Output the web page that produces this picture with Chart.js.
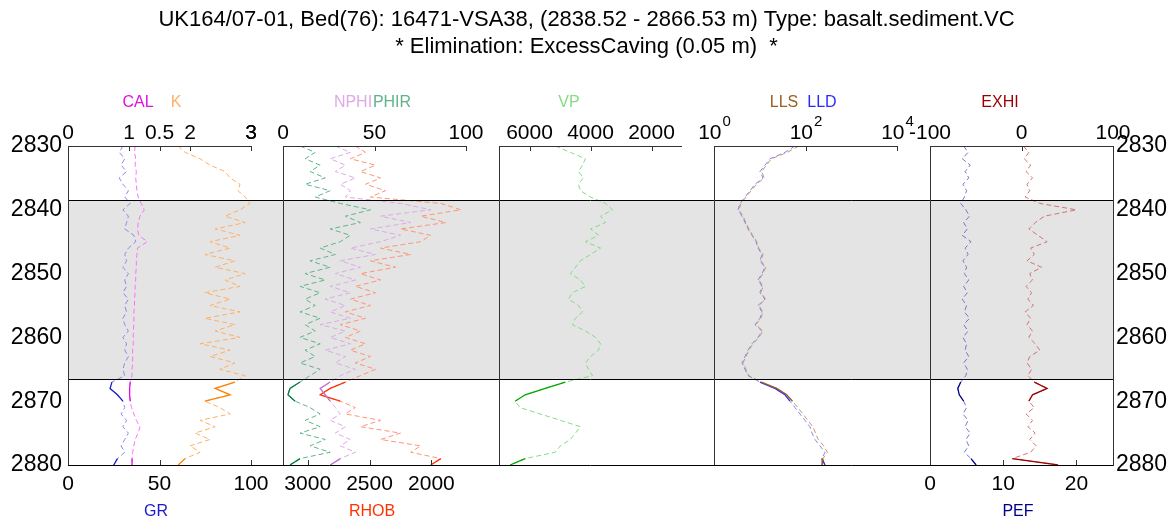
<!DOCTYPE html>
<html>
<head>
<meta charset="utf-8">
<title>UK164/07-01 bed 76</title>
<script src="https://cdn.jsdelivr.net/npm/chart.js@4.4.1/dist/chart.umd.min.js"></script>
<style>
  html, body { margin: 0; padding: 0; background: #fff; }
  #wrap { width: 1173px; height: 518px; }
</style>
</head>
<body>
<div id="wrap"><canvas id="logChart" width="1173" height="518"></canvas></div>
<script>
// Log curves sampled every metre
const depth = [2830, 2831, 2832, 2833, 2834, 2835, 2836, 2837, 2838, 2839,
               2840, 2841, 2842, 2843, 2844, 2845, 2846, 2847, 2848, 2849,
               2850, 2851, 2852, 2853, 2854, 2855, 2856, 2857, 2858, 2859,
               2860, 2861, 2862, 2863, 2864, 2865, 2866, 2867, 2868, 2869,
               2870, 2871, 2872, 2873, 2874, 2875, 2876, 2877, 2878, 2879, 2880];

const gr   = [30, 28, 31, 29, 32, 28, 30, 33, 31, 34, 30, 33, 32, 31, 36, 37, 33, 31, 32, 30,
              33, 31, 32, 30, 33, 31, 32, 30, 31, 33, 30, 32, 31, 33, 31, 30, 31, 24, 23, 27,
              30, 31, 29, 32, 30, 33, 31, 29, 31, 27, 25];
const cal  = [1.10, 1.09, 1.11, 1.10, 1.12, 1.11, 1.12, 1.13, 1.15, 1.20, 1.25, 1.18, 1.15, 1.14, 1.16, 1.30, 1.14,
              1.13, 1.12, 1.12, 1.11, 1.11, 1.10, 1.10, 1.09, 1.09, 1.08, 1.08, 1.08, 1.07, 1.07, 1.07, 1.06,
              1.06, 1.06, 1.05, 1.05, 1.02, 1.01, 1.01, 1.02, 1.04, 1.08, 1.12, 1.18, 1.15, 1.10, 1.08, 1.06,
              1.05, 1.05];
const kPot = [1.01, 1.20, 1.61, 1.88, 2.29, 2.43, 2.70, 2.64, 2.84, 2.97, 2.70, 2.29, 2.84, 2.02, 2.70, 1.88, 2.43,
              1.74, 2.56, 2.02, 2.84, 2.29, 2.70, 1.74, 2.43, 1.88, 2.70, 1.74, 2.56, 2.02, 2.70, 1.61, 2.43,
              1.88, 2.56, 2.15, 2.84, 2.56, 2.02, 2.43, 1.74, 2.15, 2.43, 1.61, 2.02, 1.47, 1.88, 1.33, 1.61,
              1.20, 1.01];
const nphi = [28.6, 36.8, 25.8, 34.1, 28.6, 39.6, 31.3, 36.8, 34.1, 64.3, 80.8, 53.3, 69.8, 47.8, 64.3, 53.3, 36.8,
              50.5, 31.3, 42.3, 28.6, 39.6, 25.8, 36.8, 23.1, 34.1, 25.8, 36.8, 20.3, 34.1, 25.8, 36.8, 23.1,
              34.1, 28.6, 39.6, 31.3, 25.8, 20.3, 23.1, 25.8, 28.6, 31.3, 25.8, 34.1, 28.6, 36.8, 31.3, 39.6,
              31.3, 25.8];
const phir = [9.3, 17.6, 12.1, 20.3, 14.8, 23.1, 12.1, 25.8, 17.6, 31.3, 47.8, 34.1, 42.3, 25.8, 36.8, 31.3, 20.3,
              28.6, 14.8, 25.8, 12.1, 23.1, 9.3, 20.3, 12.1, 17.6, 9.3, 20.3, 12.1, 17.6, 9.3, 20.3, 12.1,
              17.6, 9.3, 20.3, 14.8, 9.3, 3.8, 2.7, 6.6, 14.8, 20.3, 12.1, 20.3, 9.3, 23.1, 14.8, 25.8,
              9.3, 3.8];
const rhob = [2615, 2533, 2655, 2452, 2574, 2411, 2533, 2371, 2493, 1924, 1761, 2086, 1883, 2249, 2005, 2086, 2411,
              2167, 2493, 2289, 2574, 2411, 2615, 2452, 2655, 2493, 2696, 2533, 2737, 2574, 2696, 2533, 2655,
              2493, 2615, 2452, 2574, 2696, 2818, 2899, 2737, 2615, 2696, 2411, 2574, 2249, 2411, 2086, 2167,
              1924, 2005];
const vp   = [5154, 4659, 4165, 4264, 4395, 4231, 4395, 4330, 4000, 3505, 3274, 3670, 3505, 4000, 3736, 4165, 3670,
              4000, 4330, 4494, 4659, 4330, 4165, 4593, 4725, 4395, 4264, 4494, 4593, 4165, 3835, 3670, 3736,
              4000, 4165, 4066, 3934, 4824, 5483, 6143, 6472, 6308, 5648, 4989, 4330, 4494, 4659, 4989, 5154,
              6143, 6637];
const lls  = [72, 40, 18, 14, 11, 12.5, 8.5, 6.5, 5.0, 3.9, 3.5, 4.3, 5.0, 5.8, 7.0, 8.6, 9.5,
              11.8, 10.6, 13.6, 11.7, 9.6, 11.8, 10.6, 13.5, 9.6, 11.7, 10.6, 8.2, 11.7, 9.6, 7.1, 5.8,
              5.0, 4.3, 5.0, 5.8, 10.8, 23.5, 39, 52, 68, 88, 112, 145, 165, 190, 250, 300,
              240, 230];
const lld  = [58.9, 35.6, 16.8, 13.0, 10.1, 11.8, 7.87, 6.12, 4.76, 3.70, 3.35, 4.09, 4.76, 5.53, 6.77, 8.28, 9.16,
              11.2, 10.1, 13.0, 11.2, 9.16, 11.2, 10.1, 13.0, 9.16, 11.2, 10.1, 7.87, 11.2, 9.16, 6.77, 5.53,
              4.76, 4.09, 4.76, 5.53, 10.1, 21.5, 35.6, 45.8, 58.9, 75.8, 97.5, 125, 139, 161, 207, 267,
              229, 267];
const pef  = [4.6, 5.2, 4.4, 5.5, 4.8, 5.3, 4.5, 5.0, 4.7, 4.2, 4.9, 5.4, 4.6, 5.1, 4.4, 5.6, 4.8,
              5.2, 4.5, 5.0, 4.7, 5.3, 4.6, 5.1, 4.4, 5.0, 4.7, 5.4, 4.6, 5.2, 4.5, 5.0, 4.8,
              5.3, 4.6, 5.1, 4.9, 4.2, 3.8, 4.0, 4.6, 5.0, 4.5, 5.2, 4.8, 5.5, 4.9, 5.3, 4.7,
              5.6, 6.3];
const exhi = [2, 8, 3, 10, 5, 12, 6, 9, 4, 20, 60, 25, 15, 8, 18, 28, 10,
              14, 6, 22, 9, 12, 5, 11, 7, 13, 4, 10, 6, 12, 8, 15, 20,
              9, 6, 11, 7, 14, 28, 12, 8, 14, 5, 12, 7, 15, 9, 16, 10,
              -10, 40];

// bed limits and the depth intervals that survive the caving filter
const bedTop = 2838.52, bedBase = 2866.53;
const keptIntervals = [[2866.53, 2870.5], [2878.5, 2880]];

// tick labels
const depthTicks = [2830, 2840, 2850, 2860, 2870, 2880];
const calTicks = [0, 1, 2, 3];
const kTicks = [0.5, 3];
const grTicks = [0, 50, 100];
const poroTicks = [0, 50, 100];
const rhobTicks = [3000, 2500, 2000];
const vpTicks = [6000, 4000, 2000];
const resTicks = [1, 100, 10000];
const exhiTicks = [-100, 0, 100];
const pefTicks = [0, 10, 20];

const title1 = 'UK164/07-01, Bed(76): 16471-VSA38, (2838.52 - 2866.53 m) Type: basalt.sediment.VC';
const title2 = '* Elimination: ExcessCaving (0.05 m)  *';

// ---- layout ----
const FONT = '"Liberation Sans", Arial, Helvetica, sans-serif';
const LEFT_W = 68, RIGHT_W = 60;
const AREA_W = 1173 - LEFT_W - RIGHT_W;
const TRACK_STARTS = [0, 215, 431, 646, 862];
const TRACK_W = 183;
const TICK_FONT = '21px ' + FONT;

const C = {
  gr:   ['#8a8aee', '#1a1ac8'], cal: ['#ff70ff', '#e010e0'], k: ['#ffb066', '#ff8000'],
  nphi: ['#dcaae6', '#c070d0'], phir: ['#60b48c', '#007a40'], rhob: ['#ff9478', '#ff3300'],
  vp:   ['#84dc84', '#00a800'], lls: ['#c49a66', '#9a6020'], lld: ['#8484ff', '#2a2aff'],
  pef:  ['#7676c8', '#00008c'], exhi: ['#d07474', '#9a0000']
};

// x scale for one track: maps [leftVal, rightVal] onto that track's slice of the plot area
function trackAxis(track, leftVal, rightVal, log) {
  const f0 = TRACK_STARTS[track] / AREA_W, f1 = (TRACK_STARTS[track] + TRACK_W) / AREA_W;
  const a = log ? Math.log10(leftVal) : leftVal, b = log ? Math.log10(rightVal) : rightVal;
  const span = Math.abs(b - a) / (f1 - f0);
  let min, max;
  if (a < b) { min = a - f0 * span; max = min + span; }
  else { max = a + f0 * span; min = max - span; }
  return {
    type: log ? 'logarithmic' : 'linear', axis: 'x', display: false, reverse: a > b, bounds: 'data',
    min: log ? Math.pow(10, min) : min, max: log ? Math.pow(10, max) : max
  };
}

function isKept(d) {
  return keptIntervals.some(r => d >= r[0] - 1e-6 && d <= r[1] + 1e-6);
}

function curve(label, values, axis, colors) {
  return [
    { label: label, data: depth.map((d, i) => ({ x: values[i], y: d })), xAxisID: axis, yAxisID: 'y',
      borderColor: colors[0], borderWidth: 1, borderDash: [5, 3], order: 2 },
    { label: label + ' kept', data: depth.map((d, i) => ({ x: isKept(d) ? values[i] : null, y: d })),
      xAxisID: axis, yAxisID: 'y', borderColor: colors[1], borderWidth: 1.3, order: 1 }
  ];
}

const tracks = [
  { top: [{ id: 'cal', ticks: calTicks }, { id: 'k', ticks: kTicks }], bottom: [{ id: 'gr', ticks: grTicks }],
    topNames: [['CAL', C.cal[1], 70], ['K', C.k[0], 108]], bottomNames: [['GR', C.gr[1], 88]] },
  { top: [{ id: 'nphi', ticks: poroTicks }], bottom: [{ id: 'rhob', ticks: rhobTicks }],
    topNames: [['NPHI', C.nphi[0], 70], ['PHIR', C.phir[0], 109]], bottomNames: [['RHOB', C.rhob[1], 89]] },
  { top: [{ id: 'vp', ticks: vpTicks }], bottom: [],
    topNames: [['VP', C.vp[0], 70]], bottomNames: [] },
  { top: [{ id: 'res', ticks: resTicks, pow: true }], bottom: [],
    topNames: [['LLS', C.lls[1], 70], ['LLD', C.lld[1], 108]], bottomNames: [] },
  { top: [{ id: 'exhi', ticks: exhiTicks }], bottom: [{ id: 'pef', ticks: pefTicks }],
    topNames: [['EXHI', C.exhi[1], 70]], bottomNames: [['PEF', C.pef[1], 88]] }
];

const trackFrame = {
  id: 'trackFrame',
  beforeDraw(chart) {
    const { ctx, chartArea: a, scales } = chart;
    const y0 = scales.y.getPixelForValue(bedTop), y1 = scales.y.getPixelForValue(bedBase);
    ctx.save();
    ctx.fillStyle = '#e4e4e4';
    ctx.fillRect(a.left, y0, a.right - a.left, y1 - y0);
    ctx.restore();
  },
  afterDraw(chart) {
    const { ctx, chartArea: a, scales } = chart;
    const line = (x0, y0, x1, y1) => { ctx.beginPath(); ctx.moveTo(x0, y0); ctx.lineTo(x1, y1); ctx.stroke(); };
    const px = v => Math.round(v) + 0.5;
    ctx.save();
    ctx.strokeStyle = '#000';
    ctx.lineWidth = 1;
    [bedTop, bedBase].forEach(d => {
      const y = px(scales.y.getPixelForValue(d));
      line(a.left, y, a.right, y);
    });
    line(a.left, px(a.bottom), a.right, px(a.bottom));

    ctx.strokeStyle = '#333';
    ctx.textAlign = 'center';
    ctx.textBaseline = 'alphabetic';
    tracks.forEach((t, i) => {
      const x0 = a.left + TRACK_STARTS[i];
      line(px(x0), a.top, px(x0), a.bottom);
      line(x0, px(a.top), x0 + TRACK_W, px(a.top));
      t.top.forEach(ax => {
        ax.ticks.forEach(v => {
          const x = scales[ax.id].getPixelForValue(v);
          line(px(x), a.top, px(x), a.top + 5);
          ctx.fillStyle = '#000';
          if (ax.pow) {
            // 10 with a raised exponent
            const e = String(Math.round(Math.log10(v)));
            ctx.font = TICK_FONT;
            const w1 = ctx.measureText('10').width;
            ctx.font = '15px ' + FONT;
            const w2 = ctx.measureText(e).width;
            const xs = x - (w1 + w2) / 2;
            ctx.textAlign = 'left';
            ctx.font = TICK_FONT;
            ctx.fillText('10', xs, a.top - 7);
            ctx.font = '15px ' + FONT;
            ctx.fillText(e, xs + w1 + 1, a.top - 20);
            ctx.textAlign = 'center';
          } else {
            ctx.font = TICK_FONT;
            ctx.fillText(String(v), x, a.top - 7);
          }
        });
      });
      t.bottom.forEach(ax => {
        ax.ticks.forEach(v => {
          const x = scales[ax.id].getPixelForValue(v);
          line(px(x), a.bottom, px(x), a.bottom - 5);
          ctx.fillStyle = '#000';
          ctx.font = TICK_FONT;
          ctx.fillText(String(v), x, a.bottom + 25);
        });
      });
      ctx.font = '16px ' + FONT;
      t.topNames.forEach(n => { ctx.fillStyle = n[1]; ctx.fillText(n[0], x0 + n[2], a.top - 39); });
      t.bottomNames.forEach(n => { ctx.fillStyle = n[1]; ctx.fillText(n[0], x0 + n[2], a.bottom + 51); });
    });

    ctx.fillStyle = '#000';
    ctx.font = '22px ' + FONT;
    ctx.fillText(title1, chart.width / 2, 26);
    ctx.fillText(title2, chart.width / 2, 53);
    ctx.restore();
  }
};

Chart.defaults.font.family = FONT;

const depthAxis = (pos, w) => ({
  type: 'linear', position: pos, reverse: true, min: depthTicks[0], max: depthTicks[depthTicks.length - 1],
  grid: { display: false, drawTicks: false },
  border: { display: true, color: '#333' },
  afterBuildTicks: s => { s.ticks = depthTicks.map(v => ({ value: v })); },
  afterFit: s => { s.width = w; },
  ticks: { color: '#000', font: { size: 23 }, padding: pos === 'left' ? 6 : 3, callback: v => String(v) }
});

new Chart(document.getElementById('logChart').getContext('2d'), {
  type: 'line',
  data: {
    datasets: [].concat(
      curve('GR', gr, 'gr', C.gr),
      curve('CAL', cal, 'cal', C.cal),
      curve('K', kPot, 'k', C.k),
      curve('NPHI', nphi, 'nphi', C.nphi),
      curve('PHIR', phir, 'nphi', C.phir),
      curve('RHOB', rhob, 'rhob', C.rhob),
      curve('VP', vp, 'vp', C.vp),
      curve('LLS', lls, 'res', C.lls),
      curve('LLD', lld, 'res', C.lld),
      curve('PEF', pef, 'pef', C.pef),
      curve('EXHI', exhi, 'exhi', C.exhi)
    )
  },
  options: {
    indexAxis: 'y',
    responsive: false,
    animation: false,
    devicePixelRatio: 1,
    layout: { padding: { top: 146, bottom: 53, left: 0, right: 0 } },
    elements: { point: { radius: 0 }, line: { tension: 0, fill: false } },
    plugins: { legend: { display: false }, tooltip: { enabled: false } },
    scales: {
      y: depthAxis('left', LEFT_W),
      y2: depthAxis('right', RIGHT_W),
      gr: trackAxis(0, 0, 100),
      cal: trackAxis(0, 0, 3),
      k: trackAxis(0, -2, 3),
      nphi: trackAxis(1, 0, 100),
      rhob: trackAxis(1, 3200, 1720),
      vp: trackAxis(2, 7000, 1000),
      res: trackAxis(3, 1, 10000, true),
      exhi: trackAxis(4, -100, 100),
      pef: trackAxis(4, 0, 25)
    }
  },
  plugins: [trackFrame]
});
</script>
</body>
</html>
